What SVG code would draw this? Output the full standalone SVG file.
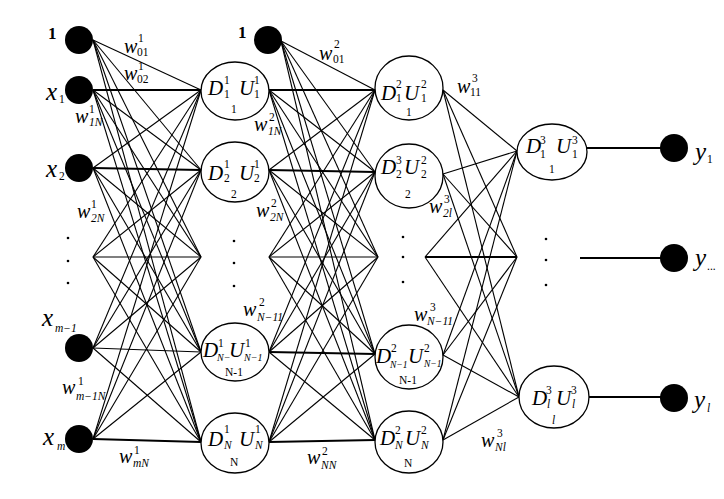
<svg xmlns="http://www.w3.org/2000/svg" width="724" height="499" viewBox="0 0 724 499">
<style>
.ln{stroke:#000;stroke-width:1.1;fill:none}
.hz{stroke:#000;stroke-width:1.8;fill:none}
.nd{fill:#fff;stroke:#000;stroke-width:1.3}
.bl{fill:#000}
text{font-family:"Liberation Serif","Times New Roman",serif;fill:#000}
.it{font-style:italic}
.big{font-size:21px}
.xl{font-size:25px}
.w{font-size:20px;font-style:italic}
.sm{font-size:11.5px}
.xs{font-size:10px}
.xxs{font-size:9.5px}
.sb{font-size:17px;font-weight:bold}
</style>
<rect width="724" height="499" fill="#fff"/>
<g id="connectors">
<line class="ln" x1="93" y1="40" x2="201" y2="90"/>
<line class="ln" x1="93" y1="40" x2="201" y2="170"/>
<line class="ln" x1="93" y1="40" x2="201" y2="257"/>
<line class="ln" x1="93" y1="40" x2="201" y2="352"/>
<line class="ln" x1="93" y1="40" x2="201" y2="442"/>
<line class="hz" x1="93" y1="90" x2="201" y2="90"/>
<line class="ln" x1="93" y1="90" x2="201" y2="170"/>
<line class="ln" x1="93" y1="90" x2="201" y2="257"/>
<line class="ln" x1="93" y1="90" x2="201" y2="352"/>
<line class="ln" x1="93" y1="90" x2="201" y2="442"/>
<line class="ln" x1="93" y1="168" x2="201" y2="90"/>
<line class="hz" x1="93" y1="168" x2="201" y2="170"/>
<line class="ln" x1="93" y1="168" x2="201" y2="257"/>
<line class="ln" x1="93" y1="168" x2="201" y2="352"/>
<line class="ln" x1="93" y1="168" x2="201" y2="442"/>
<line class="ln" x1="93" y1="257" x2="201" y2="90"/>
<line class="ln" x1="93" y1="257" x2="201" y2="170"/>
<line class="ln" x1="93" y1="257" x2="201" y2="257"/>
<line class="ln" x1="93" y1="257" x2="201" y2="352"/>
<line class="ln" x1="93" y1="257" x2="201" y2="442"/>
<line class="ln" x1="93" y1="348" x2="201" y2="90"/>
<line class="ln" x1="93" y1="348" x2="201" y2="170"/>
<line class="ln" x1="93" y1="348" x2="201" y2="257"/>
<line class="ln" x1="93" y1="348" x2="201" y2="352"/>
<line class="ln" x1="93" y1="348" x2="201" y2="442"/>
<line class="ln" x1="93" y1="439" x2="201" y2="90"/>
<line class="ln" x1="93" y1="439" x2="201" y2="170"/>
<line class="ln" x1="93" y1="439" x2="201" y2="257"/>
<line class="ln" x1="93" y1="439" x2="201" y2="352"/>
<line class="hz" x1="93" y1="439" x2="201" y2="442"/>
<line class="ln" x1="281" y1="41" x2="375" y2="90"/>
<line class="ln" x1="281" y1="41" x2="375" y2="172"/>
<line class="ln" x1="281" y1="41" x2="378" y2="257"/>
<line class="ln" x1="281" y1="41" x2="375" y2="354"/>
<line class="ln" x1="281" y1="41" x2="375" y2="440"/>
<line class="hz" x1="269" y1="90" x2="375" y2="90"/>
<line class="ln" x1="269" y1="90" x2="375" y2="172"/>
<line class="ln" x1="269" y1="90" x2="378" y2="257"/>
<line class="ln" x1="269" y1="90" x2="375" y2="354"/>
<line class="ln" x1="269" y1="90" x2="375" y2="440"/>
<line class="ln" x1="269" y1="170" x2="375" y2="90"/>
<line class="hz" x1="269" y1="170" x2="375" y2="172"/>
<line class="ln" x1="269" y1="170" x2="378" y2="257"/>
<line class="ln" x1="269" y1="170" x2="375" y2="354"/>
<line class="ln" x1="269" y1="170" x2="375" y2="440"/>
<line class="ln" x1="269" y1="257" x2="375" y2="90"/>
<line class="ln" x1="269" y1="257" x2="375" y2="172"/>
<line class="ln" x1="269" y1="257" x2="378" y2="257"/>
<line class="ln" x1="269" y1="257" x2="375" y2="354"/>
<line class="ln" x1="269" y1="257" x2="375" y2="440"/>
<line class="ln" x1="269" y1="352" x2="375" y2="90"/>
<line class="ln" x1="269" y1="352" x2="375" y2="172"/>
<line class="ln" x1="269" y1="352" x2="378" y2="257"/>
<line class="hz" x1="269" y1="352" x2="375" y2="354"/>
<line class="ln" x1="269" y1="352" x2="375" y2="440"/>
<line class="ln" x1="269" y1="442" x2="375" y2="90"/>
<line class="ln" x1="269" y1="442" x2="375" y2="172"/>
<line class="ln" x1="269" y1="442" x2="378" y2="257"/>
<line class="ln" x1="269" y1="442" x2="375" y2="354"/>
<line class="hz" x1="269" y1="442" x2="375" y2="440"/>
<line class="ln" x1="443" y1="90" x2="517" y2="151"/>
<line class="ln" x1="443" y1="90" x2="517" y2="257"/>
<line class="ln" x1="443" y1="90" x2="519" y2="397"/>
<line class="ln" x1="443" y1="174" x2="517" y2="151"/>
<line class="ln" x1="443" y1="174" x2="517" y2="257"/>
<line class="ln" x1="443" y1="174" x2="519" y2="397"/>
<line class="ln" x1="425" y1="257" x2="517" y2="151"/>
<line class="hz" x1="425" y1="257" x2="517" y2="257"/>
<line class="ln" x1="425" y1="257" x2="519" y2="397"/>
<line class="ln" x1="443" y1="355" x2="517" y2="151"/>
<line class="ln" x1="443" y1="355" x2="517" y2="257"/>
<line class="ln" x1="443" y1="355" x2="519" y2="397"/>
<line class="ln" x1="443" y1="440" x2="517" y2="151"/>
<line class="ln" x1="443" y1="440" x2="517" y2="257"/>
<line class="ln" x1="443" y1="440" x2="519" y2="397"/>
<line class="hz" x1="587" y1="148" x2="662" y2="148"/>
<line class="hz" x1="580" y1="258" x2="662" y2="258"/>
<line class="hz" x1="589" y1="397" x2="662" y2="397"/>
</g>
<g id="weight-labels">
<text><tspan class="w" x="124" y="53">w</tspan><tspan class="sm" x="138" y="42">1</tspan><tspan class="sm" x="137" y="56">01</tspan></text>
<text><tspan class="w" x="124" y="80">w</tspan><tspan class="sm" x="138" y="70">1</tspan><tspan class="sm" x="137" y="83">02</tspan></text>
<text><tspan class="w" x="75" y="123">w</tspan><tspan class="sm" x="89" y="113">1</tspan><tspan class="sm it" x="89" y="126">1N</tspan></text>
<text><tspan class="w" x="77" y="218">w</tspan><tspan class="sm" x="91" y="208">1</tspan><tspan class="sm it" x="91" y="222">2N</tspan></text>
<text><tspan class="w" x="62" y="394">w</tspan><tspan class="sm" x="78" y="385">1</tspan><tspan class="sm it" x="76" y="400">m−1N</tspan></text>
<text><tspan class="w" x="119" y="463">w</tspan><tspan class="sm" x="134" y="454">1</tspan><tspan class="sm it" x="133" y="467">mN</tspan></text>
<text><tspan class="w" x="319" y="60">w</tspan><tspan class="sm" x="334" y="48">2</tspan><tspan class="sm" x="333" y="63">01</tspan></text>
<text><tspan class="w" x="254" y="131">w</tspan><tspan class="sm" x="269" y="121">2</tspan><tspan class="sm it" x="268" y="135">1N</tspan></text>
<text><tspan class="w" x="256" y="217">w</tspan><tspan class="sm" x="271" y="207">2</tspan><tspan class="sm it" x="270" y="221">2N</tspan></text>
<text><tspan class="w" x="243" y="316">w</tspan><tspan class="sm" x="259" y="306">2</tspan><tspan class="sm it" x="257" y="321">N−11</tspan></text>
<text><tspan class="w" x="307" y="464">w</tspan><tspan class="sm" x="322" y="455">2</tspan><tspan class="sm it" x="321" y="469">NN</tspan></text>
<text><tspan class="w" x="457" y="93">w</tspan><tspan class="sm" x="472" y="82">3</tspan><tspan class="sm" x="470" y="96">11</tspan></text>
<text><tspan class="w" x="429" y="213">w</tspan><tspan class="sm" x="444" y="203">3</tspan><tspan class="sm it" x="443" y="217">2l</tspan></text>
<text><tspan class="w" x="414" y="321">w</tspan><tspan class="sm" x="430" y="311">3</tspan><tspan class="sm it" x="427" y="325">N−11</tspan></text>
<text><tspan class="w" x="481" y="447">w</tspan><tspan class="sm" x="497" y="437">3</tspan><tspan class="sm it" x="495" y="451">Nl</tspan></text>
</g>
<g id="ellipsis-dots" class="bl">
<circle cx="68" cy="238" r="1.3"/><circle cx="68" cy="261" r="1.3"/><circle cx="68" cy="283" r="1.3"/>
<circle cx="234" cy="241" r="1.3"/><circle cx="234" cy="263" r="1.3"/><circle cx="234" cy="286" r="1.3"/>
<circle cx="403" cy="237" r="1.3"/><circle cx="403" cy="257" r="1.3"/><circle cx="403" cy="282" r="1.3"/>
<circle cx="546" cy="239" r="1.3"/><circle cx="546" cy="260" r="1.3"/><circle cx="546" cy="285" r="1.3"/>
</g>
<g id="in-bias">
<circle class="bl" cx="79" cy="40" r="14"/>
<text class="sb" x="48" y="39">1</text>
</g>
<g id="in-x1">
<circle class="bl" cx="79" cy="90" r="14"/>
<text><tspan class="xl it" x="46" y="100">x</tspan><tspan class="sm" x="59" y="103">1</tspan></text>
</g>
<g id="in-x2">
<circle class="bl" cx="79" cy="168" r="14"/>
<text><tspan class="xl it" x="46" y="177">x</tspan><tspan class="sm" x="59" y="180">2</tspan></text>
</g>
<g id="in-xm1">
<circle class="bl" cx="79" cy="348" r="14"/>
<text><tspan class="xl it" x="42" y="326">x</tspan><tspan class="sm it" x="55" y="332">m−1</tspan></text>
</g>
<g id="in-xm">
<circle class="bl" cx="79" cy="439" r="14"/>
<text><tspan class="xl it" x="43" y="445">x</tspan><tspan class="sm it" x="57" y="450">m</tspan></text>
</g>
<g id="h1-1">
<ellipse class="nd" cx="235" cy="91" rx="34" ry="29"/>
<text><tspan class="big it" x="208" y="95">D</tspan><tspan class="sm" x="224" y="84">1</tspan><tspan class="sm" x="224" y="98">1</tspan><tspan class="big it" x="239" y="95">U</tspan><tspan class="sm" x="254" y="84">1</tspan><tspan class="sm" x="254" y="98">1</tspan><tspan class="sm" x="231" y="113">1</tspan></text>
</g>
<g id="h1-2">
<ellipse class="nd" cx="235" cy="172" rx="34" ry="30"/>
<text><tspan class="big it" x="208" y="180">D</tspan><tspan class="sm" x="224" y="168">1</tspan><tspan class="sm" x="224" y="182">2</tspan><tspan class="big it" x="239" y="180">U</tspan><tspan class="sm" x="254" y="168">1</tspan><tspan class="sm" x="254" y="182">2</tspan><tspan class="sm" x="231" y="198">2</tspan></text>
</g>
<g id="h1-n1">
<ellipse class="nd" cx="235" cy="352" rx="34" ry="29"/>
<text><tspan class="big it" x="203" y="357">D</tspan><tspan class="sm" x="218" y="347">1</tspan><tspan class="xs it" x="217" y="361">N−</tspan><tspan class="big it" x="229" y="357">U</tspan><tspan class="sm" x="245" y="347">1</tspan><tspan class="xs it" x="244" y="361">N−1</tspan><tspan class="sm" x="225" y="376">N-1</tspan></text>
</g>
<g id="h1-n">
<ellipse class="nd" cx="235" cy="443" rx="34" ry="30"/>
<text><tspan class="big it" x="208" y="446">D</tspan><tspan class="sm" x="224" y="433">1</tspan><tspan class="sm it" x="224" y="449">N</tspan><tspan class="big it" x="239" y="446">U</tspan><tspan class="sm" x="255" y="433">1</tspan><tspan class="sm it" x="255" y="449">N</tspan><tspan class="sm" x="230" y="466">N</tspan></text>
</g>
<g id="h2-bias">
<circle class="bl" cx="268" cy="40" r="14"/>
<text class="sb" x="238" y="38">1</text>
</g>
<g id="h2-1">
<ellipse class="nd" cx="409" cy="88" rx="34" ry="32"/>
<text><tspan class="big it" x="381" y="100">D</tspan><tspan class="sm" x="396" y="88">2</tspan><tspan class="sm" x="396" y="102">1</tspan><tspan class="big it" x="404" y="100">U</tspan><tspan class="sm" x="421" y="88">2</tspan><tspan class="sm" x="421" y="102">1</tspan><tspan class="sm" x="406" y="116">1</tspan></text>
</g>
<g id="h2-2">
<ellipse class="nd" cx="409" cy="176" rx="34" ry="32"/>
<text><tspan class="big it" x="381" y="174">D</tspan><tspan class="sm" x="396" y="164">3</tspan><tspan class="sm" x="396" y="178">2</tspan><tspan class="big it" x="404" y="174">U</tspan><tspan class="sm" x="421" y="164">2</tspan><tspan class="sm" x="421" y="178">2</tspan><tspan class="sm" x="405" y="198">2</tspan></text>
</g>
<g id="h2-n1">
<ellipse class="nd" cx="409" cy="357" rx="34" ry="32"/>
<text><tspan class="big it" x="376" y="363">D</tspan><tspan class="sm" x="391" y="352">2</tspan><tspan class="xxs it" x="390" y="368">N−1</tspan><tspan class="big it" x="408" y="363">U</tspan><tspan class="sm" x="424" y="352">2</tspan><tspan class="xxs it" x="424" y="367">N−1</tspan><tspan class="sm" x="399" y="384">N-1</tspan></text>
</g>
<g id="h2-n">
<ellipse class="nd" cx="409" cy="442" rx="34" ry="31"/>
<text><tspan class="big it" x="380" y="445">D</tspan><tspan class="sm" x="395" y="434">2</tspan><tspan class="sm it" x="395" y="449">N</tspan><tspan class="big it" x="405" y="445">U</tspan><tspan class="sm" x="421" y="434">2</tspan><tspan class="sm it" x="421" y="449">N</tspan><tspan class="sm" x="404" y="467">N</tspan></text>
</g>
<g id="h3-1">
<ellipse class="nd" cx="552" cy="152" rx="35" ry="28"/>
<text><tspan class="big it" x="526" y="153">D</tspan><tspan class="sm" x="540" y="144">3</tspan><tspan class="sm" x="540" y="158">1</tspan><tspan class="big it" x="556" y="153">U</tspan><tspan class="sm" x="572" y="144">3</tspan><tspan class="sm" x="572" y="158">1</tspan><tspan class="sm" x="549" y="173">1</tspan></text>
</g>
<g id="h3-l">
<ellipse class="nd" cx="554" cy="397" rx="35" ry="31"/>
<text><tspan class="big it" x="532" y="405">D</tspan><tspan class="sm" x="546" y="394">3</tspan><tspan class="sm it" x="547" y="408">l</tspan><tspan class="big it" x="556" y="405">U</tspan><tspan class="sm" x="571" y="394">3</tspan><tspan class="sm it" x="572" y="408">l</tspan><tspan class="sm it" x="552" y="424">l</tspan></text>
</g>
<g id="out-y1">
<circle class="bl" cx="674" cy="148" r="14"/>
<text><tspan class="xl it" x="695" y="160">y</tspan><tspan class="sm" x="707" y="163">1</tspan></text>
</g>
<g id="out-ydots">
<circle class="bl" cx="674" cy="258" r="14"/>
<text><tspan class="xl it" x="695" y="266">y</tspan><tspan class="sm" x="707" y="270">...</tspan></text>
</g>
<g id="out-yl">
<circle class="bl" cx="674" cy="398" r="14"/>
<text><tspan class="xl it" x="694" y="408">y</tspan><tspan class="sm it" x="707" y="412">l</tspan></text>
</g>
</svg>
